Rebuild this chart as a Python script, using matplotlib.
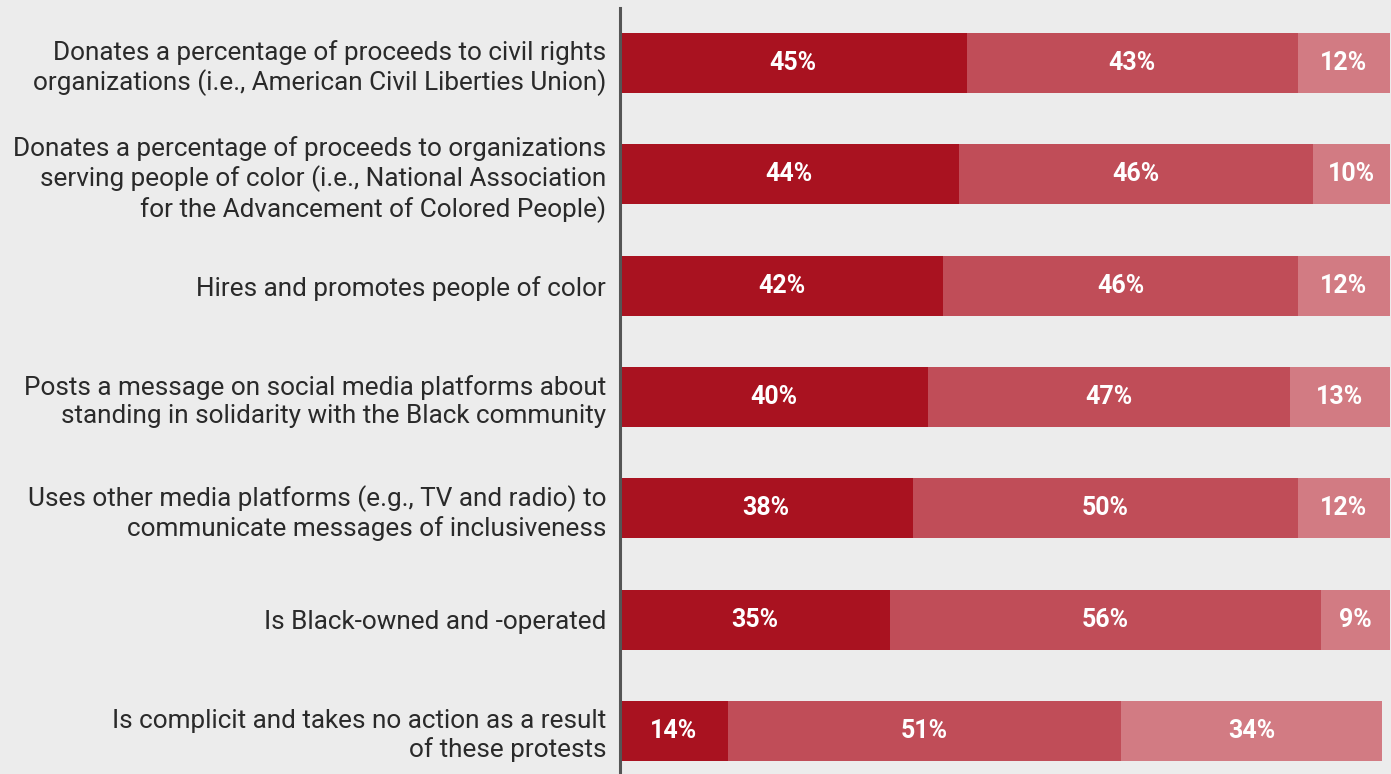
import numpy as np
import matplotlib.pyplot as plt

plt.rcParams['font.family'] = ['Roboto', 'DejaVu Sans']

categories = [
    "Donates a percentage of proceeds to civil rights\norganizations (i.e., American Civil Liberties Union)",
    "Donates a percentage of proceeds to organizations\nserving people of color (i.e., National Association\nfor the Advancement of Colored People)",
    "Hires and promotes people of color",
    "Posts a message on social media platforms about\nstanding in solidarity with the Black community",
    "Uses other media platforms (e.g., TV and radio) to\ncommunicate messages of inclusiveness",
    "Is Black-owned and -operated",
    "Is complicit and takes no action as a result\nof these protests",
]
more_likely = [45, 44, 42, 40, 38, 35, 14]
no_difference = [43, 46, 46, 47, 50, 56, 51]
less_likely = [12, 10, 12, 13, 12, 9, 34]

colors = ['#a91220', '#c04d58', '#d27b83']
bg = '#ececec'

fig = plt.figure(figsize=[13.91, 7.74], dpi=100, facecolor=bg)
ax = fig.add_axes([620 / 1391, 0, 770 / 1391, 766 / 774])
ax.set_facecolor(bg)

y = np.arange(len(categories))
left = np.zeros(len(categories))
for vals, c in zip([more_likely, no_difference, less_likely], colors):
    vals = np.array(vals)
    ax.barh(y, vals, left=left, height=0.54, color=c)
    for yi, l, v in zip(y, left, vals):
        ax.text(l + v / 2, yi, "{}%".format(v), ha='center', va='center',
                color='white', fontsize=18, fontweight='bold')
    left = left + vals

ax.set_xlim(0, 100)
ax.set_ylim(6.386, -0.494)
ax.set_yticks(y)
ax.set_yticklabels(categories, fontsize=18.8, color='#2a2a2a', linespacing=1.2)
ax.tick_params(axis='y', length=0, pad=10)
ax.set_xticks([])
for s in ['top', 'right', 'bottom']:
    ax.spines[s].set_visible(False)
ax.spines['left'].set_color('#555555')
ax.spines['left'].set_linewidth(2.2)

fig.savefig("out.png", dpi=100, facecolor=bg)
